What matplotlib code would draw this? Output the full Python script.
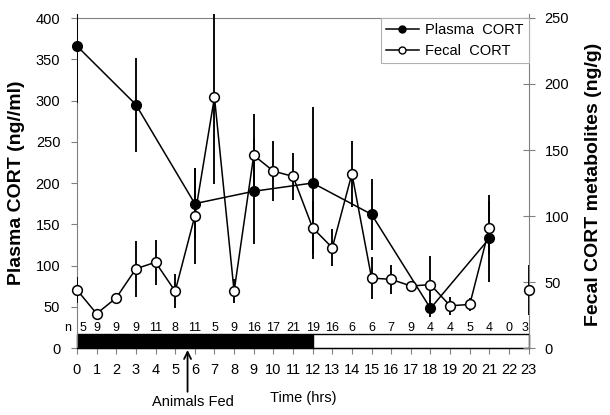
import numpy as np
import matplotlib
matplotlib.use("Agg")
import matplotlib.pyplot as plt
from matplotlib.lines import Line2D

plt.rcParams['font.family'] = ['Liberation Sans', 'DejaVu Sans']

# ---- data ----
hours = list(range(24))
plasma_hours = [0, 3, 6, 9, 12, 15, 18, 21]
plasma_cort = [366, 295, 175, 190, 200, 162, 48, 133]
plasma_err = [69, 57, 43, 64, 92, 43, 10, 53]

fecal_cort = [44, 26, 38, 60, 65, 43, 100, 190, 43, 146, 134, 130, 91, 76,
              132, 53, 52, 47, 48, 32, 33, 91, np.nan, 44]
fecal_err = [10, 2, 4, 21, 17, 13, 36, 66, 9, 31, 23, 18, 20, 14,
             25, 16, 11, 4, 22, 7, 5, 20, np.nan, 19]

n_counts = [5, 9, 9, 9, 11, 8, 11, 5, 9, 16, 17, 21, 19, 16, 6, 6, 7, 9,
            4, 4, 5, 4, 0, 3]

phase_start = [0, 12]
phase_end = [12, 23]
phase_color = ['black', 'white']
phase_height = 17

fed_hour = 5.63

left_ticks = [0, 50, 100, 150, 200, 250, 300, 350, 400]
right_ticks = [0, 50, 100, 150, 200, 250]

# ---- figure ----
fig = plt.figure(figsize=(6.1, 4.15), dpi=100)
ax1 = fig.add_axes([0.1262, 0.1614, 0.7405, 0.8051])
ax2 = ax1.twinx()

ax1.set_xlim(0, 23)
ax1.set_ylim(0, 405)
ax2.set_ylim(0, 253.1)

grey = '#808080'
for ax in (ax1, ax2):
    ax.spines['top'].set_visible(False)
    ax.patch.set_visible(False)
ax1.spines['right'].set_visible(False)
ax2.spines['left'].set_visible(False)
ax2.spines['bottom'].set_visible(False)
ax1.spines['left'].set_color(grey)
ax1.spines['left'].set_linewidth(0.8)
ax2.spines['right'].set_color(grey)
ax2.spines['right'].set_linewidth(0.8)
ax1.spines['bottom'].set_color('black')

ax1.axhline(400, color=grey, lw=0.8, zorder=1)

# light/dark bar
for s, e, c in zip(phase_start, phase_end, phase_color):
    ax1.bar(s, phase_height, width=e - s, align='edge', facecolor=c,
            edgecolor='black', linewidth=1.0, zorder=2, clip_on=False)

# n labels
ax1.text(-0.45, 24.6, 'n', ha='center', va='center', fontsize=9, clip_on=False)
for i, (h, n) in enumerate(zip(hours, n_counts)):
    ha = 'center'
    if i == 0:
        ha = 'left'
    elif i == len(hours) - 1:
        ha = 'right'
    ax1.text(h + (0.15 if i == 0 else 0), 24.6, str(n), ha=ha, va='center',
             fontsize=9, clip_on=False)

# plasma
ax1.errorbar(plasma_hours, plasma_cort, yerr=plasma_err, fmt='none',
             ecolor='black', elinewidth=1.35, capsize=0, zorder=3)
ax1.plot(plasma_hours, plasma_cort, '-o', color='black', lw=1.1, ms=7,
         mfc='black', mec='black', zorder=4, clip_on=False)

# fecal
ax2.errorbar(hours, fecal_cort, yerr=fecal_err, fmt='none',
             ecolor='black', elinewidth=1.35, capsize=0, zorder=3)
ax2.plot(hours, fecal_cort, '-o', color='black', lw=1.1, ms=7,
         mfc='white', mec='black', mew=1.1, zorder=4, clip_on=False)

# ticks
ax1.set_xticks(hours)
ax1.set_xticklabels([str(h) for h in hours], fontsize=10.5)
ax1.tick_params(axis='x', direction='out', length=4, color=grey, pad=7)
ax1.set_yticks(left_ticks)
ax1.set_yticklabels([str(t) for t in left_ticks], fontsize=10.5)
ax1.tick_params(axis='y', direction='out', length=4, color=grey, pad=8)
ax2.set_yticks(right_ticks)
ax2.set_yticklabels([str(t) for t in right_ticks], fontsize=10.5)
ax2.tick_params(axis='y', direction='inout', length=9, color=grey, pad=7)

# labels
ax1.set_xlabel('Time (hrs)', fontsize=10.5)
ax1.xaxis.set_label_coords(0.5, -0.1497)
ax1.xaxis.label.set_va('center')
ax1.set_ylabel('Plasma CORT (ng//ml)', fontsize=14, fontweight='bold')
ax1.yaxis.set_label_coords(-0.1328, 0.494)
ax1.yaxis.label.set_va('center')
ax2.set_ylabel('Fecal CORT metabolites (ng/g)', fontsize=14, fontweight='bold')
ax2.yaxis.set_label_coords(1.1424, 0.49)
ax2.yaxis.label.set_va('center')

# animals fed arrow
tr = ax1.get_xaxis_transform()
ax1.annotate('', xy=(fed_hour, -0.006), xycoords=tr,
             xytext=(fed_hour, -0.131), textcoords=tr,
             arrowprops=dict(arrowstyle='->,head_length=0.5,head_width=0.25',
                             lw=1.3, color='black', shrinkA=0, shrinkB=0))
ax1.text(fed_hour + 0.26, -0.161, 'Animals Fed', transform=tr, ha='center',
         va='center', fontsize=10.5)

# legend
handles = [Line2D([], [], color='black', lw=1.1, marker='o', ms=5,
                  mfc='black', mec='black'),
           Line2D([], [], color='black', lw=1.1, marker='o', ms=5,
                  mfc='white', mec='black')]
leg = ax2.legend(handles, ['Plasma  CORT', 'Fecal  CORT'], loc='upper right',
                 bbox_to_anchor=(1.0, 0.9877), borderaxespad=0, fontsize=10.5,
                 frameon=True, fancybox=False, framealpha=1, edgecolor='#b0b0b0',
                 handlelength=2.3, handletextpad=0.4, borderpad=0.35,
                 labelspacing=0.45)
leg.get_frame().set_linewidth(0.8)
leg.set_zorder(10)

fig.savefig('out.png', dpi=100)
